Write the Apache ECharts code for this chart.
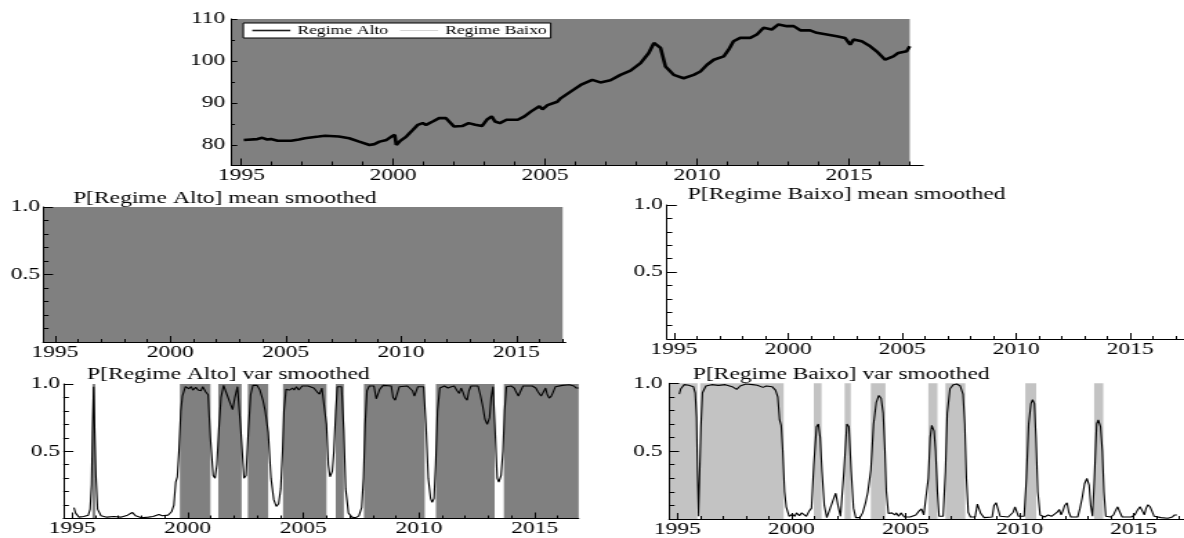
<!DOCTYPE html>
<html>
<head>
<meta charset="utf-8">
<script src="https://cdn.jsdelivr.net/npm/echarts@6/dist/echarts.min.js"></script>
<style>
  html, body { margin: 0; padding: 0; background: #fff; overflow: hidden; }
  #chart { position: absolute; left: 0; top: 0; height: 538px; transform-origin: 0 0; }
</style>
</head>
<body>
<div id="chart"></div>
<script>
// ---- data -------------------------------------------------------------
// Level series (top panel)
const topYears = [1995.08,1995.53,1995.69,1995.85,1995.97,1996.2,1996.64,1996.9,1997.09,1997.54,1997.76,1998.21,1998.55,1998.88,1999.22,1999.38,1999.55,1999.78,1999.94,2000.05,2000.1,2000.22,2000.43,2000.65,2000.81,2000.97,2001.08,2001.3,2001.51,2001.73,2001.84,2002.0,2002.27,2002.48,2002.7,2002.92,2003.08,2003.24,2003.35,2003.51,2003.73,2004.1,2004.32,2004.54,2004.81,2004.91,2005.08,2005.4,2005.51,2005.84,2006.17,2006.55,2006.82,2007.15,2007.48,2007.81,2008.14,2008.41,2008.58,2008.8,2008.96,2009.23,2009.56,2009.89,2010.11,2010.33,2010.55,2010.88,2011.04,2011.2,2011.42,2011.75,2011.97,2012.19,2012.46,2012.68,2012.96,2013.18,2013.4,2013.72,2013.94,2014.27,2014.6,2014.87,2015.04,2015.15,2015.42,2015.7,2015.91,2016.19,2016.46,2016.62,2016.9,2017.0];
const topValues = [81.2,81.4,81.7,81.3,81.4,81.0,81.0,81.3,81.6,82.0,82.2,82.0,81.6,80.8,80.0,80.2,80.8,81.2,82.0,82.4,80.0,80.9,82.0,83.6,84.8,85.2,84.8,85.6,86.4,86.4,85.6,84.4,84.5,85.2,84.8,84.5,86.0,86.8,85.6,85.2,86.0,86.0,86.8,88.0,89.2,88.5,89.5,90.3,91.1,92.7,94.3,95.5,94.9,95.4,96.7,97.7,99.5,101.9,104.3,103.1,98.7,96.7,95.9,96.7,97.5,99.1,100.3,101.1,102.7,104.7,105.5,105.5,106.3,107.9,107.5,108.7,108.3,108.3,107.3,107.3,106.7,106.3,105.9,105.5,103.9,105.1,104.7,103.5,102.3,100.3,101.1,101.9,102.3,103.5];

// Smoothed regime probabilities of the variance model
const varYears = [1995.08,1995.15,1995.3,1995.5,1995.7,1995.78,1995.84,1995.88,1995.93,1995.97,1996.03,1996.1,1996.25,1996.5,1996.8,1997.1,1997.4,1997.6,1997.75,1998.0,1998.3,1998.5,1998.75,1998.9,1999.15,1999.3,1999.4,1999.48,1999.55,1999.62,1999.7,1999.77,1999.9,2000.05,2000.15,2000.22,2000.35,2000.45,2000.57,2000.65,2000.78,2000.88,2000.98,2001.1,2001.18,2001.26,2001.34,2001.44,2001.55,2001.7,2001.85,2001.94,2002.04,2002.15,2002.3,2002.43,2002.52,2002.62,2002.72,2002.82,2003.0,2003.12,2003.25,2003.35,2003.48,2003.6,2003.72,2003.83,2003.93,2004.02,2004.1,2004.16,2004.25,2004.4,2004.53,2004.6,2004.7,2004.8,2004.95,2005.2,2005.45,2005.6,2005.7,2005.8,2005.88,2006.0,2006.08,2006.15,2006.25,2006.32,2006.4,2006.47,2006.65,2006.75,2006.83,2006.95,2007.1,2007.25,2007.4,2007.52,2007.6,2007.67,2007.75,2007.85,2008.05,2008.15,2008.22,2008.3,2008.45,2008.8,2008.88,2008.97,2009.05,2009.15,2009.5,2009.72,2009.8,2009.88,2009.95,2010.2,2010.3,2010.4,2010.5,2010.57,2010.65,2010.72,2010.8,2010.9,2011.1,2011.25,2011.4,2011.52,2011.65,2011.74,2011.82,2011.9,2011.98,2012.08,2012.16,2012.25,2012.55,2012.65,2012.75,2012.85,2012.95,2013.05,2013.12,2013.2,2013.28,2013.38,2013.45,2013.55,2013.63,2013.7,2013.78,2014.0,2014.12,2014.2,2014.3,2014.4,2014.5,2014.9,2015.05,2015.15,2015.28,2015.38,2015.47,2015.55,2015.63,2015.72,2015.8,2015.9,2016.2,2016.5,2016.7,2016.8,2016.9];
const pBaixoVar = [0.92,0.96,0.99,0.985,0.975,0.93,0.75,0.36,0.02,0.30,0.68,0.93,0.98,0.99,0.985,0.99,0.975,0.955,0.98,0.995,0.99,0.985,0.97,0.98,0.975,0.95,0.90,0.73,0.69,0.50,0.20,0.09,0.02,0.035,0.02,0.045,0.025,0.045,0.05,0.02,0.06,0.08,0.40,0.68,0.70,0.60,0.35,0.10,0.01,0.08,0.15,0.19,0.10,0.02,0.35,0.70,0.68,0.35,0.08,0.01,0.01,0.045,0.12,0.20,0.36,0.70,0.86,0.91,0.89,0.78,0.50,0.20,0.04,0.045,0.03,0.045,0.02,0.045,0.015,0.015,0.03,0.06,0.075,0.03,0.02,0.30,0.60,0.69,0.65,0.50,0.20,0.02,0.02,0.35,0.78,0.96,0.99,0.995,0.98,0.92,0.70,0.30,0.05,0.015,0.015,0.11,0.12,0.04,0.01,0.015,0.10,0.12,0.12,0.02,0.015,0.05,0.09,0.09,0.02,0.02,0.30,0.70,0.85,0.88,0.85,0.60,0.20,0.03,0.015,0.03,0.02,0.015,0.05,0.07,0.03,0.06,0.10,0.12,0.05,0.015,0.015,0.08,0.16,0.26,0.30,0.25,0.10,0.02,0.30,0.70,0.73,0.68,0.50,0.20,0.02,0.015,0.03,0.06,0.09,0.05,0.015,0.015,0.03,0.06,0.09,0.06,0.03,0.08,0.105,0.09,0.06,0.02,0.01,0.005,0.015,0.03,0.03];
const pAltoVar = [0.08,0.04,0.01,0.015,0.025,0.07,0.25,0.64,0.98,0.70,0.32,0.07,0.02,0.01,0.015,0.01,0.025,0.045,0.02,0.005,0.01,0.015,0.03,0.02,0.025,0.05,0.10,0.27,0.31,0.50,0.80,0.91,0.98,0.965,0.98,0.955,0.975,0.955,0.95,0.98,0.94,0.92,0.60,0.32,0.30,0.40,0.65,0.90,0.99,0.92,0.85,0.81,0.90,0.98,0.65,0.30,0.32,0.65,0.92,0.99,0.99,0.955,0.88,0.80,0.64,0.30,0.14,0.09,0.11,0.22,0.50,0.80,0.96,0.955,0.97,0.955,0.98,0.955,0.985,0.985,0.97,0.94,0.925,0.97,0.98,0.70,0.40,0.31,0.35,0.50,0.80,0.98,0.98,0.65,0.22,0.04,0.01,0.005,0.02,0.08,0.30,0.70,0.95,0.985,0.985,0.89,0.88,0.96,0.99,0.985,0.90,0.88,0.88,0.98,0.985,0.95,0.91,0.91,0.98,0.98,0.70,0.30,0.15,0.12,0.15,0.40,0.80,0.97,0.985,0.97,0.98,0.985,0.95,0.93,0.97,0.94,0.90,0.88,0.95,0.985,0.985,0.92,0.84,0.74,0.70,0.75,0.90,0.98,0.70,0.30,0.27,0.32,0.50,0.80,0.98,0.985,0.97,0.94,0.91,0.95,0.985,0.985,0.97,0.94,0.91,0.94,0.97,0.92,0.895,0.91,0.94,0.98,0.99,0.995,0.985,0.97,0.97];

// Regime periods (start, end) in years
const meanAltoPeriods = [[1994.4, 2017.0]];
const varAltoPeriods = [[1995.88,1996.0],[1999.66,2000.98],[2001.32,2002.33],[2002.60,2003.48],[2004.12,2006.0],[2006.40,2006.75],[2007.62,2010.25],[2010.73,2013.27],[2013.67,2016.95]];
const varBaixoPeriods = [[1994.4,1995.88],[1996.0,1999.66],[2000.98,2001.32],[2002.33,2002.60],[2003.48,2004.12],[2006.0,2006.40],[2006.75,2007.62],[2010.25,2010.73],[2013.27,2013.67]];

// Tick values
const yearLabels = [1995, 2000, 2005, 2010, 2015];
const yearTicks = [1995,1996,1997,1998,1999,2000,2001,2002,2003,2004,2005,2006,2007,2008,2009,2010,2011,2012,2013,2014,2015,2016,2017];
const levelLabels = [80, 90, 100, 110];
const levelMinor = [85, 95, 105];
const probLabels = [0.5, 1.0];
const probMinor = [0.1, 0.2, 0.3, 0.4, 0.6, 0.7, 0.8, 0.9];

// ---- layout -----------------------------------------------------------
// The figure is drawn narrow and stretched horizontally by S.
const S = 1.38;
const W = 1184 / S;
const sx = v => v / S;
const FONT = "'Liberation Serif', 'Times New Roman', serif";
const ALTO = '#808080';
const BAIXO = '#c3c3c3';
const ALTO_KEY = '#1e1e1e';
const BAIXO_KEY = '#c8c8c8';

const panels = [
  { left: 231, right: 922, top: 19, bottom: 165, xMin: 1994.67, xMax: 2017.44, yMin: 75.23, yMax: 110,
    yLab: levelLabels, yMin2: levelMinor, yFmt: v => String(v), yMajor: 6, yMinor: 3.7, yMargin: 6, xMajor: 6.5, xMinor: 3.5 },
  { left: 43, right: 565, top: 207, bottom: 342, xMin: 1994.48, xMax: 2017.13, yMin: 0, yMax: 1,
    yLab: probLabels, yMin2: probMinor, yFmt: v => v.toFixed(1), yMajor: 10, yMinor: 5.5, yMargin: 3, xMajor: 6, xMinor: 3 },
  { left: 666, right: 1190, top: 205, bottom: 339, xMin: 1994.683, xMax: 2017.416, yMin: 0, yMax: 1,
    yLab: probLabels, yMin2: probMinor, yFmt: v => v.toFixed(1), yMajor: 10, yMinor: 5.5, yMargin: 4, xMajor: 6, xMinor: 3 },
  { left: 63.3, right: 578, top: 384, bottom: 518.5, xMin: 1994.623, xMax: 2016.905, yMin: 0, yMax: 1,
    yLab: probLabels, yMin2: probMinor, yFmt: v => v.toFixed(1), yMajor: 10, yMinor: 5.5, yMargin: 3.3, xMajor: 6, xMinor: 3 },
  { left: 668.3, right: 1190, top: 383.3, bottom: 519, xMin: 1994.636, xMax: 2017.27, yMin: 0, yMax: 1,
    yLab: probLabels, yMin2: probMinor, yFmt: v => v.toFixed(1), yMajor: 10, yMinor: 5.5, yMargin: 6.5, xMajor: 6, xMinor: 3 }
];

const grid = [], xAxis = [], yAxis = [];
const inRange = (vals, a, b) => vals.filter(v => v >= a - 1e-9 && v <= b + 1e-9);

panels.forEach((p, i) => {
  grid.push({ left: sx(p.left), top: p.top, width: sx(p.right - p.left), height: p.bottom - p.top });
  const lab = inRange(yearLabels, p.xMin, p.xMax);
  const tk = inRange(yearTicks, p.xMin, p.xMax);
  xAxis.push({
    type: 'value', gridIndex: i, min: p.xMin, max: p.xMax, position: 'bottom', z: 10,
    axisLine: { show: true, onZero: false, lineStyle: { color: '#000', width: 1 } },
    axisTick: { show: true, inside: true, length: p.xMajor, customValues: lab, lineStyle: { color: '#000', width: 1 } },
    axisLabel: { show: true, customValues: lab, margin: 2, color: '#000', fontFamily: FONT, fontSize: 17, formatter: v => String(v) },
    splitLine: { show: false }
  });
  xAxis.push({
    type: 'value', gridIndex: i, min: p.xMin, max: p.xMax, position: 'bottom', z: 10,
    axisLine: { show: false },
    axisTick: { show: true, inside: true, length: p.xMinor, customValues: tk, lineStyle: { color: '#000', width: 1 } },
    axisLabel: { show: false }, splitLine: { show: false }
  });
  yAxis.push({
    type: 'value', gridIndex: i, min: p.yMin, max: p.yMax, position: 'left', z: 10,
    axisLine: { show: true, onZero: false, lineStyle: { color: '#000', width: 1 } },
    axisTick: { show: true, inside: true, length: sx(p.yMajor), customValues: p.yLab, lineStyle: { color: '#000', width: 1 } },
    axisLabel: { show: true, customValues: p.yLab, margin: sx(p.yMargin), color: '#000', fontFamily: FONT, fontSize: 17, formatter: p.yFmt },
    splitLine: { show: false }
  });
  yAxis.push({
    type: 'value', gridIndex: i, min: p.yMin, max: p.yMax, position: 'left', z: 10,
    axisLine: { show: false },
    axisTick: { show: true, inside: true, length: sx(p.yMinor), customValues: p.yMin2, lineStyle: { color: '#000', width: 1 } },
    axisLabel: { show: false }, splitLine: { show: false }
  });
});

// shaded regime bands, clipped to the panel's x range
function bands(periods, p) {
  return periods
    .map(([a, b]) => [Math.max(a, p.xMin), Math.min(b, p.xMax)])
    .filter(([a, b]) => b > a)
    .map(([a, b]) => [{ xAxis: a }, { xAxis: b }]);
}

function regimeSeries(name, fill, key, periods, i) {
  return {
    name, type: 'line', xAxisIndex: 2 * i, yAxisIndex: 2 * i, data: [], symbol: 'none', z: 1,
    lineStyle: { color: key }, itemStyle: { color: key },
    markArea: { silent: true, itemStyle: { color: fill, opacity: 1, borderWidth: 0 }, data: periods ? bands(periods, panels[i]) : [] }
  };
}

function curve(name, xs, ys, i, width) {
  return {
    name, type: 'line', xAxisIndex: 2 * i, yAxisIndex: 2 * i, symbol: 'none', z: 5,
    data: xs.map((x, k) => [x, ys[k]]),
    lineStyle: { color: '#000', width }, silent: true
  };
}

const series = [
  regimeSeries('Regime Alto', ALTO, ALTO_KEY, meanAltoPeriods, 0),
  regimeSeries('Regime Baixo', BAIXO, BAIXO_KEY, null, 0),
  curve('Nível', topYears, topValues, 0, 2.6),
  regimeSeries('Regime Alto', ALTO, ALTO_KEY, meanAltoPeriods, 1),
  regimeSeries('Regime Alto', ALTO, ALTO_KEY, varAltoPeriods, 3),
  curve('P[Regime Alto] var smoothed', varYears, pAltoVar, 3, 1.1),
  regimeSeries('Regime Baixo', BAIXO, BAIXO_KEY, varBaixoPeriods, 4),
  curve('P[Regime Baixo] var smoothed', varYears, pBaixoVar, 4, 1.1)
];

const titleStyle = { fontFamily: FONT, fontSize: 17, fontWeight: 'normal', color: '#000' };
const title = [
  { text: 'P[Regime Alto] mean smoothed', left: sx(73), top: 190, padding: 0, textStyle: titleStyle },
  { text: 'P[Regime Baixo] mean smoothed', left: sx(687), top: 186.5, padding: 0, textStyle: titleStyle },
  { text: 'P[Regime Alto] var smoothed', left: sx(87), top: 366.5, padding: 0, textStyle: titleStyle },
  { text: 'P[Regime Baixo] var smoothed', left: sx(692), top: 366.5, padding: 0, textStyle: titleStyle }
];

const dom = document.getElementById('chart');
dom.style.width = W + 'px';
dom.style.transform = 'scaleX(' + S + ')';
const chart = echarts.init(dom, null, { renderer: 'canvas', width: W, height: 538 });

chart.setOption({
  animation: false,
  backgroundColor: '#fff',
  textStyle: { fontFamily: FONT },
  title,
  legend: {
    data: [
      { name: 'Regime Alto', icon: 'path://M0,0H38V2.2H0Z' },
      { name: 'Regime Baixo', icon: 'path://M0,0H38V1.1H0Z' }
    ],
    left: sx(243), top: 23, orient: 'horizontal',
    backgroundColor: '#fff', borderColor: '#000', borderWidth: 1, borderRadius: 0,
    padding: [1, sx(4), 1, sx(9)],
    itemWidth: sx(38), itemHeight: 14, itemGap: sx(12),
    symbolKeepAspect: true,
    selectedMode: false,
    textStyle: { fontFamily: FONT, fontSize: 12.8, color: '#000' }
  },
  grid, xAxis, yAxis, series
});
</script>
</body>
</html>
